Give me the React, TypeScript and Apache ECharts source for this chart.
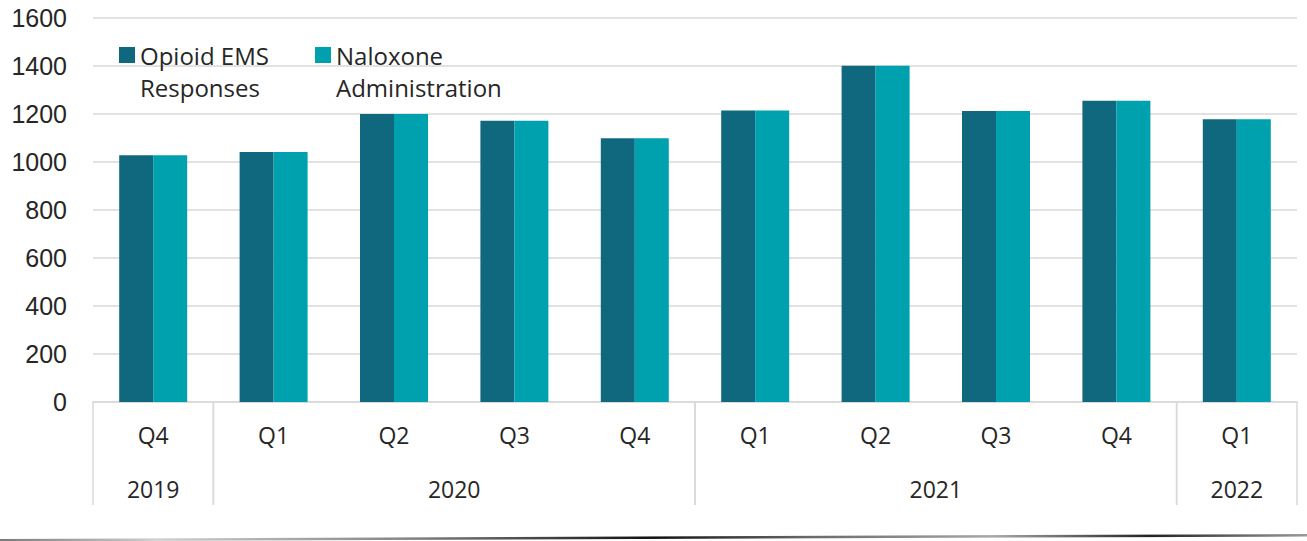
import React, { useEffect, useRef } from "react";
import * as echarts from "echarts";

const quarters = ["Q4", "Q1", "Q2", "Q3", "Q4", "Q1", "Q2", "Q3", "Q4", "Q1"];
const opioidEMS = [1028, 1042, 1200, 1172, 1099, 1215, 1401, 1212, 1255, 1178];
const naloxone = [1028, 1042, 1200, 1172, 1099, 1215, 1401, 1212, 1255, 1178];
const yearLabels = ["2019", "2020", "2021", "2022"];
const yearSpans = [
  [0, 0],
  [1, 4],
  [5, 8],
  [9, 9],
];
const seriesNames = ["Opioid EMS Responses", "Naloxone Administration"];
const legendLabels = ["Opioid EMS\nResponses", "Naloxone\nAdministration"];

const DARK = "#10687e";
const TEAL = "#00a1af";
const GRID = "#d9d9d9";
const TEXT = "#262626";

export default function App() {
  const ref = useRef<HTMLDivElement>(null);
  useEffect(() => {
    if (!ref.current) return;
    const chart = echarts.init(ref.current, null, { renderer: "svg" });
    const legendBase = {
      orient: "horizontal",
      top: 7,
      padding: 0,
      itemWidth: 16,
      itemHeight: 16,
      icon: "rect",
      formatter: (name: string) => "\n" + legendLabels[seriesNames.indexOf(name)],
      textStyle: {
        fontFamily: "Open Sans",
        fontSize: 24,
        lineHeight: 32,
        color: TEXT,
      },
    };
    chart.setOption({
      animation: false,
      backgroundColor: "#ffffff",
      legend: [
        { ...legendBase, left: 119, data: [seriesNames[0]] },
        { ...legendBase, left: 315, data: [seriesNames[1]] },
      ],
      grid: { left: 93, right: 10, top: 18, bottom: 139, containLabel: false },
      xAxis: {
        type: "category",
        data: quarters,
        axisLine: { show: true, lineStyle: { color: GRID, width: 1.5 } },
        axisTick: { show: false },
        axisLabel: {
          margin: 21,
          fontFamily: "Open Sans",
          fontSize: 23,
          color: TEXT,
          interval: 0,
        },
        splitLine: { show: false },
      },
      yAxis: {
        type: "value",
        min: 0,
        max: 1600,
        interval: 200,
        axisLine: { show: false },
        axisTick: { show: false },
        axisLabel: {
          margin: 26,
          fontFamily: "Liberation Sans",
          fontSize: 25,
          color: TEXT,
          formatter: (v: number) => String(v),
        },
        splitLine: { show: true, lineStyle: { color: GRID, width: 1.5 } },
      },
      series: [
        {
          name: seriesNames[0],
          type: "bar",
          data: opioidEMS,
          barWidth: 34,
          barGap: "0%",
          itemStyle: { color: DARK },
        },
        {
          name: seriesNames[1],
          type: "bar",
          data: naloxone,
          barWidth: 34,
          barGap: "0%",
          itemStyle: { color: TEAL },
        },
        {
          name: "years",
          type: "custom",
          clip: false,
          silent: true,
          encode: { x: [0, 1], y: 2 },
          data: yearSpans.map((s) => [s[0], s[1], 0]),
          renderItem: (params: any, api: any) => {
            const start = api.value(0);
            const end = api.value(1);
            const band = api.size([1, 0])[0];
            const p0 = api.coord([start, 0]);
            const p1 = api.coord([end, 0]);
            const x0 = p0[0] - band / 2;
            const x1 = p1[0] + band / 2;
            const y0 = p0[1];
            return {
              type: "group",
              children: [
                {
                  type: "line",
                  shape: { x1: x0, y1: y0, x2: x0, y2: y0 + 103 },
                  style: { stroke: GRID, lineWidth: 1.5 },
                },
                {
                  type: "line",
                  shape: { x1: x1, y1: y0, x2: x1, y2: y0 + 103 },
                  style: { stroke: GRID, lineWidth: 1.5 },
                },
                {
                  type: "text",
                  x: (x0 + x1) / 2,
                  y: y0 + 87,
                  style: {
                    text: yearLabels[params.dataIndex],
                    fontFamily: "Open Sans",
                    fontSize: 23,
                    fill: TEXT,
                    align: "center",
                    verticalAlign: "middle",
                  },
                },
              ],
            };
          },
        },
      ],
      graphic: [
        {
          type: "polygon",
          silent: true,
          shape: {
            points: [
              [0, 539],
              [1307, 534],
              [1307, 536.5],
              [0, 541.5],
            ],
          },
          style: {
            fill: {
              type: "linear",
              x: 0,
              y: 0,
              x2: 1,
              y2: 0,
              colorStops: [
                { offset: 0, color: "#7a7a7a" },
                { offset: 0.12, color: "#d0d0d0" },
                { offset: 0.3, color: "#8a8a8a" },
                { offset: 0.5, color: "#111111" },
                { offset: 0.62, color: "#6a6a6a" },
                { offset: 0.76, color: "#a8a8a8" },
                { offset: 0.88, color: "#222222" },
                { offset: 1, color: "#9a9a9a" },
              ],
            },
          },
        },
      ],
    });
    return () => chart.dispose();
  }, []);
  return (
    <div
      ref={ref}
      style={{ position: "fixed", left: 0, top: 0, width: 1307, height: 541 }}
    />
  );
}
